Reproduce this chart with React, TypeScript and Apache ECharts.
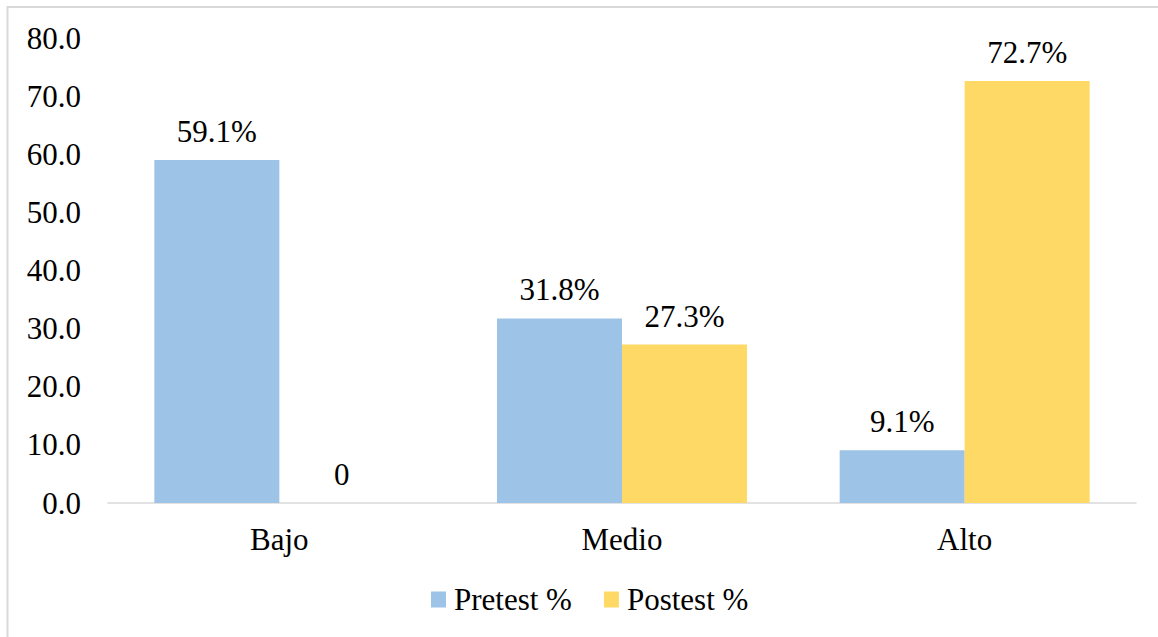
import React, { useEffect, useRef } from "react";
import * as echarts from "echarts";

const categories = ["Bajo", "Medio", "Alto"];
const pretest = [59.1, 31.8, 9.1];
const postest = [0, 27.3, 72.7];
const seriesNames = ["Pretest %", "Postest %"];

const FONT = "Liberation Serif";
const FS = 31;

export default function App() {
  const ref = useRef<HTMLDivElement>(null);
  useEffect(() => {
    const chart = echarts.init(ref.current!, null, { renderer: "svg" });
    const labelFmt = (p: any) => (p.value === 0 ? "0" : p.value.toFixed(1) + "%");
    const label = {
      show: true,
      position: "top",
      distance: 13,
      formatter: labelFmt,
      fontFamily: FONT,
      fontSize: FS,
      color: "#000",
    };
    chart.setOption({
      animation: false,
      backgroundColor: "#fff",
      textStyle: { fontFamily: FONT },
      grid: { left: 108, right: 22, top: 38.7, bottom: 134, containLabel: false },
      legend: {
        data: seriesNames,
        left: 426,
        top: 579,
        itemWidth: 15,
        itemHeight: 16,
        itemGap: 32,
        icon: "rect",
        textStyle: { fontFamily: FONT, fontSize: FS, color: "#000", padding: [0, 0, 0, 3] },
      },
      xAxis: {
        type: "category",
        data: categories,
        axisLine: { lineStyle: { color: "#D9D9D9", width: 1.5 } },
        axisTick: { show: false },
        axisLabel: { fontFamily: FONT, fontSize: FS, color: "#000", margin: 21 },
      },
      yAxis: {
        type: "value",
        min: 0,
        max: 80,
        interval: 10,
        axisLine: { show: false },
        axisTick: { show: false },
        splitLine: { show: false },
        axisLabel: {
          fontFamily: FONT,
          fontSize: FS,
          color: "#000",
          margin: 27,
          formatter: (v: number) => v.toFixed(1),
        },
      },
      series: [
        {
          name: seriesNames[0],
          type: "bar",
          data: pretest,
          barWidth: 125,
          barGap: "0%",
          itemStyle: { color: "#9DC3E6" },
          label,
        },
        {
          name: seriesNames[1],
          type: "bar",
          data: postest,
          barWidth: 125,
          barGap: "0%",
          itemStyle: { color: "#FFD966" },
          label,
        },
      ],
      graphic: [
        {
          type: "rect",
          shape: { x: 7.5, y: 7, width: 1200, height: 700 },
          style: { fill: "none", stroke: "#D9D9D9", lineWidth: 2 },
          silent: true,
        },
      ],
    });
    return () => chart.dispose();
  }, []);
  return (
    <div
      ref={ref}
      style={{ position: "fixed", left: 0, top: 0, width: 1158, height: 637 }}
    />
  );
}
